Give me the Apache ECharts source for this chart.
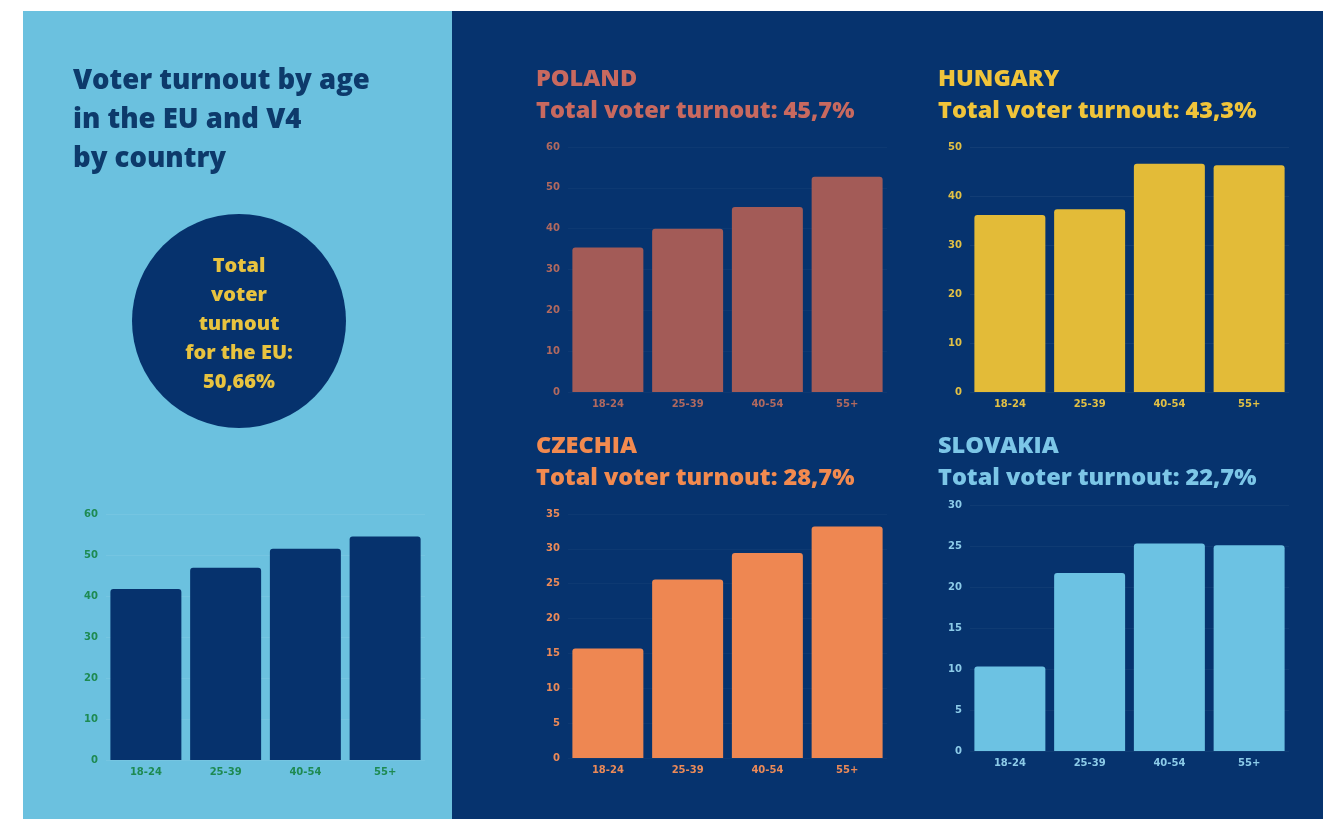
<!DOCTYPE html>
<html>
<head>
<meta charset="utf-8">
<title>Voter turnout by age in the EU and V4</title>
<script src="https://cdn.jsdelivr.net/npm/echarts@6/dist/echarts.min.js"></script>
<style>
  html, body { margin: 0; padding: 0; background: #ffffff; }
  #chart { width: 1334px; height: 819px; }
</style>
</head>
<body>
<div id="chart"></div>
<script>
// age groups shared by every chart
const ageGroups = ['18-24', '25-39', '40-54', '55+']

// turnout by age (%)
const euTurnout = [41.7, 46.9, 51.5, 54.5]
const polandTurnout = [35.4, 40.0, 45.3, 52.7]
const hungaryTurnout = [36.1, 37.3, 46.6, 46.3]
const czechiaTurnout = [15.7, 25.6, 29.4, 33.2]
const slovakiaTurnout = [10.3, 21.7, 25.3, 25.1]

// total turnout labels
const euTotal = '50,66%'
const polandTotal = '45,7%'
const hungaryTotal = '43,3%'
const czechiaTotal = '28,7%'
const slovakiaTotal = '22,7%'

const HEAD_FONT = '"Open Sans", sans-serif'
const AXIS_FONT = '"DejaVu Sans", sans-serif'
const LIGHT_BG = '#6bc1df'
const DARK_BG = '#06336e'

const panels = [
  { name: 'EU', data: euTurnout, max: 60, interval: 10, bar: '#06326d', label: '#1e8a52',
    grid: { left: 106, top: 514, width: 319, height: 246 }, split: 'rgba(255,255,255,0.07)' },
  { name: 'POLAND', total: polandTotal, data: polandTurnout, max: 60, interval: 10, bar: '#a35b57', label: '#b0695f', title: '#c8695f',
    titleY: 79, grid: { left: 568, top: 147, width: 319, height: 245 }, split: 'rgba(255,255,255,0.03)' },
  { name: 'HUNGARY', total: hungaryTotal, data: hungaryTurnout, max: 50, interval: 10, bar: '#e3bb38', label: '#e2c044', title: '#f0c43a',
    titleY: 79, grid: { left: 970, top: 147, width: 319, height: 245 }, split: 'rgba(255,255,255,0.05)' },
  { name: 'CZECHIA', total: czechiaTotal, data: czechiaTurnout, max: 35, interval: 5, bar: '#ee8752', label: '#eb8a58', title: '#f28a4f',
    titleY: 446, grid: { left: 568, top: 514, width: 319, height: 244 }, split: 'rgba(255,255,255,0.03)' },
  { name: 'SLOVAKIA', total: slovakiaTotal, data: slovakiaTurnout, max: 30, interval: 5, bar: '#6cc2e3', label: '#8ccbe8', title: '#7cc6e7',
    titleY: 446, grid: { left: 970, top: 505, width: 319, height: 246 }, split: 'rgba(255,255,255,0.04)' }
]

const chart = echarts.init(document.getElementById('chart'))

function headText (x, y, text, color, size, extra) {
  return {
    type: 'text',
    x: x,
    y: y,
    style: Object.assign({ text: text, fill: color, fontFamily: HEAD_FONT, fontWeight: 800, fontSize: size, verticalAlign: 'middle' }, extra)
  }
}

const graphic = [
  { type: 'rect', shape: { x: 23, y: 11, width: 430, height: 808 }, style: { fill: LIGHT_BG }, z: -10 },
  { type: 'rect', shape: { x: 452, y: 11, width: 871, height: 808 }, style: { fill: DARK_BG }, z: -10 },
  // headline on the left
  headText(73, 120, 'Voter turnout by age\nin the EU and V4\nby country', '#0d3a6b', 27.5, { lineHeight: 39 }),
  { type: 'circle', shape: { cx: 239, cy: 321, r: 107 }, style: { fill: '#06326d' } },
  headText(239, 324, 'Total\nvoter\nturnout\nfor the EU:\n' + euTotal, '#e8c33f', 20, { lineHeight: 29, align: 'center' })
]

panels.forEach((p) => {
  if (!p.title) return
  graphic.push(headText(p.grid.left - 32, p.titleY, p.name, p.title, 23.5))
  graphic.push(headText(p.grid.left - 32, p.titleY + 32, 'Total voter turnout: ' + p.total, p.title, 23.5))
})

chart.setOption({
  animation: false,
  graphic: graphic,
  grid: panels.map((p) => Object.assign({ containLabel: false }, p.grid)),
  xAxis: panels.map((p, i) => ({
    type: 'category',
    gridIndex: i,
    data: ageGroups,
    axisLine: { show: false },
    axisTick: { show: false },
    axisLabel: { color: p.label, fontSize: 10, fontWeight: 'bold', fontFamily: AXIS_FONT, margin: 7 }
  })),
  yAxis: panels.map((p, i) => ({
    type: 'value',
    gridIndex: i,
    min: 0,
    max: p.max,
    interval: p.interval,
    axisLine: { show: false },
    axisTick: { show: false },
    axisLabel: { color: p.label, fontSize: 10, fontWeight: 'bold', fontFamily: AXIS_FONT, margin: 8 },
    splitLine: { lineStyle: { color: p.split, width: 1 } }
  })),
  series: panels.map((p, i) => ({
    type: 'bar',
    xAxisIndex: i,
    yAxisIndex: i,
    barCategoryGap: '11%',
    itemStyle: { color: p.bar, borderRadius: [3, 3, 0, 0] },
    data: p.data
  }))
})
</script>
</body>
</html>
